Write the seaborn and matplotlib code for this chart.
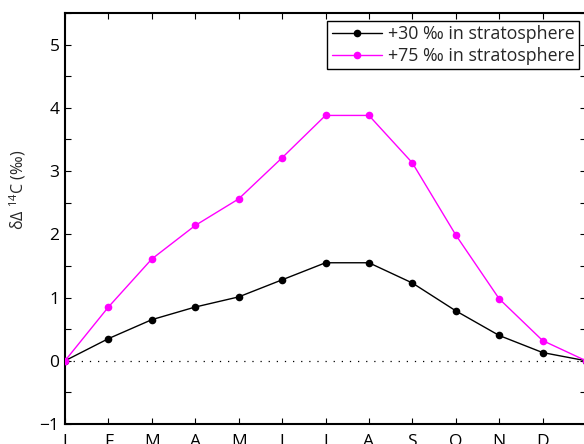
import numpy as np
import pandas as pd
import matplotlib
matplotlib.use("Agg")
import matplotlib.pyplot as plt
import seaborn as sns
from matplotlib.ticker import MultipleLocator

months = ["J", "F", "M", "A", "M", "J", "J", "A", "S", "O", "N", "D", "J"]
strat30 = [0.0, 0.35, 0.65, 0.85, 1.01, 1.28, 1.55, 1.55, 1.23, 0.79, 0.40, 0.13, 0.0]
strat75 = [0.0, 0.85, 1.61, 2.14, 2.56, 3.21, 3.88, 3.88, 3.13, 1.99, 0.98, 0.32, 0.0]
labels = ["+30 \u2030 in stratosphere", "+75 \u2030 in stratosphere"]
colors = ["#000000", "#ff00ff"]

sns.set_style("ticks")
plt.rcParams["font.family"] = ["Open Sans", "DejaVu Sans"]
plt.rcParams["mathtext.default"] = "regular"

idx = np.arange(len(months))
df = pd.DataFrame({
    "x": np.concatenate([idx, idx]),
    "y": strat30 + strat75,
    "series": [labels[0]] * len(idx) + [labels[1]] * len(idx),
})

fig = plt.figure(figsize=(5.84, 4.44), dpi=100)
ax = fig.add_axes([65 / 584, 20 / 444, 521 / 584, 411 / 444])

ax.axhline(0, color="k", lw=0.9, ls=(0, (1, 5.5)), zorder=1)
sns.lineplot(data=df, x="x", y="y", hue="series", palette=colors,
             marker="o", markersize=5.5, markeredgewidth=0, lw=1.0,
             ax=ax, zorder=3)

ax.set_xlim(0, 12)
ax.set_ylim(-1, 5.5)
ax.set_xticks(idx[:12])
ax.set_xticklabels(months[:12])
ax.set_yticks([-1, 0, 1, 2, 3, 4, 5])
ax.yaxis.set_minor_locator(MultipleLocator(0.5))
ax.tick_params(axis="both", which="both", direction="in", top=True, right=True,
               length=4, width=0.8, labelsize=12.5, color="k", labelcolor="k")
ax.tick_params(axis="x", pad=7)
ax.tick_params(axis="y", pad=4)
for s in ax.spines.values():
    s.set_linewidth(1.5)
    s.set_color("k")

ax.set_xlabel("")
ax.set_ylabel("\u03b4\u0394 $^{14}$C (\u2030)", fontsize=11.5)
ax.yaxis.set_label_coords(-0.071, 0.57)

leg = ax.legend(loc="upper right", bbox_to_anchor=(579 / 584, 1 - 21 / 444),
                bbox_transform=fig.transFigure, fontsize=12.8, frameon=True,
                fancybox=False, framealpha=1, edgecolor="k", borderpad=0.25,
                handlelength=2.8, handletextpad=0.35, labelspacing=0.2,
                borderaxespad=0)
leg.get_frame().set_linewidth(1.0)
leg.set_title(None)

fig.savefig("out.png", dpi=100)
